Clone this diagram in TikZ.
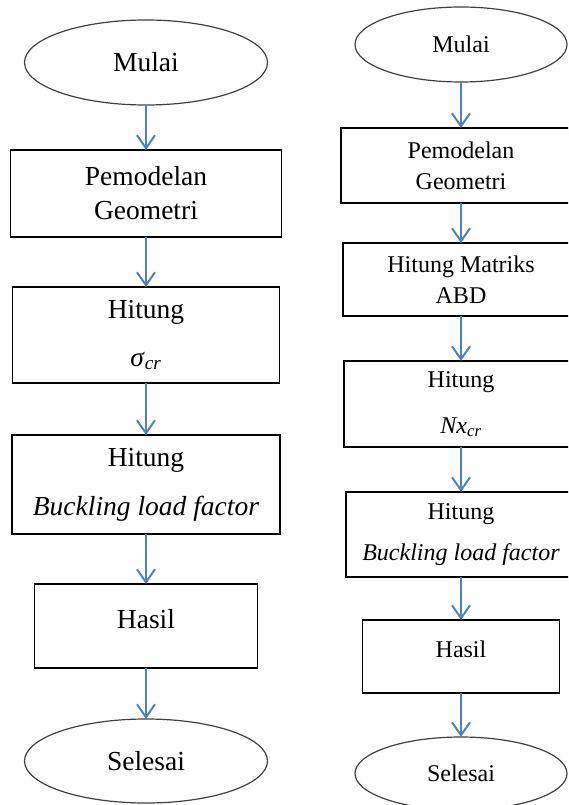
\documentclass[tikz,border=0pt]{standalone}
\usepackage{fontspec}
\setmainfont{Liberation Serif}
\usetikzlibrary{shapes.geometric,arrows.meta}
\definecolor{flowblue}{RGB}{79,129,189}

\begin{document}
\begin{tikzpicture}[x=1pt,y=-1pt,
  box/.style={draw=black, line width=1.5pt, rectangle, inner sep=0pt, outer sep=0pt, align=center},
  oval/.style={draw=black!75, line width=1.2pt, ellipse, inner sep=0pt, outer sep=0pt},
  big/.style={font=\fontsize{27.5}{34}\selectfont},
  small/.style={font=\fontsize{24}{31}\selectfont},
  flow/.style={draw=flowblue, line width=2pt, -{Straight Barb[length=13pt,width=18pt]}}]
\useasboundingbox (0,0) rectangle (568,805);
\clip (0,0) rectangle (568,805);

\node[oval, big, minimum width=243pt, minimum height=85pt] (start1) at (146,62.5) {Mulai};
\node[box, big, minimum width=271pt, minimum height=87pt] (geo1) at (146,193.5) {Pemodelan\\Geometri};
\node[box, big, minimum width=267pt, minimum height=96pt] (sig1) at (146,335) {Hitung\\[14pt]\textit{σ}\textsubscript{\textit{cr}}};
\node[box, big, minimum width=268pt, minimum height=99pt] (blf1) at (146,484.5) {Hitung\\[15pt]\textit{Buckling load factor}};
\node[box, big, minimum width=223pt, minimum height=84pt, text depth=14pt] (res1) at (146,626) {Hasil};
\node[oval, big, minimum width=243pt, minimum height=84pt] (end1) at (146,761) {Selesai};

\node[oval, small, minimum width=212pt, minimum height=75pt] (start2) at (461,44.5) {Mulai};
\node[box, small, minimum width=240pt, minimum height=75pt] (geo2) at (461,165.5) {Pemodelan\\Geometri};
\node[box, small, minimum width=236pt, minimum height=73pt] (abd2) at (461,279.5) {Hitung Matriks\\ABD};
\node[box, small, minimum width=234pt, minimum height=86pt] (nx2) at (461,404) {Hitung\\[15pt]\textit{Nx}\textsubscript{\textit{cr}}};
\node[box, small, minimum width=230pt, minimum height=85pt] (blf2) at (461,534.5) {Hitung\\[10pt]\textit{Buckling load factor}};
\node[box, small, minimum width=197pt, minimum height=73pt, text depth=14pt] (res2) at (461,656.5) {Hasil};
\node[oval, small, minimum width=212pt, minimum height=73pt] (end2) at (461,773.5) {Selesai};

\draw[flow] (start1) -- (geo1);
\draw[flow] (geo1) -- (sig1);
\draw[flow] (sig1) -- (blf1);
\draw[flow] (blf1) -- (res1);
\draw[flow] (res1) -- (end1);

\draw[flow] (start2) -- (geo2);
\draw[flow] (geo2) -- (abd2);
\draw[flow] (abd2) -- (nx2);
\draw[flow] (nx2) -- (blf2);
\draw[flow] (blf2) -- (res2);
\draw[flow] (res2) -- (end2);
\end{tikzpicture}
\end{document}
